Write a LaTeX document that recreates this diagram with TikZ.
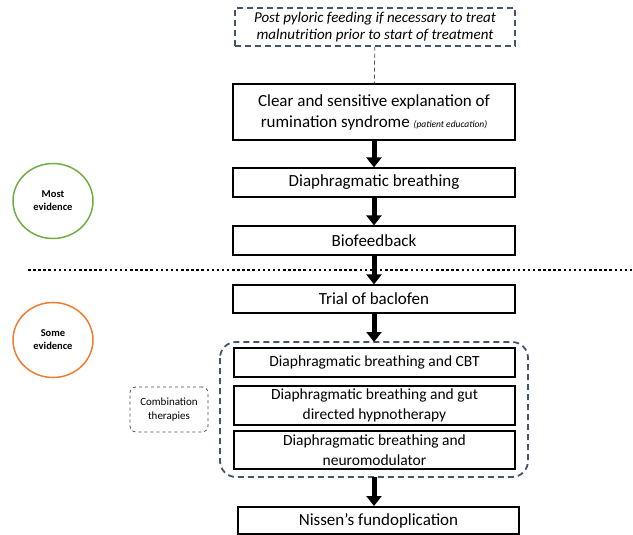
\documentclass[tikz,border=0pt]{standalone}
\usepackage{fontspec}
\setmainfont{Carlito}
\usetikzlibrary{arrows.meta}
\usetikzlibrary{shapes.geometric}
\definecolor{slate}{HTML}{44546A}
\definecolor{mostgreen}{HTML}{70AD47}
\definecolor{someorange}{HTML}{ED7D31}
\tikzset{
    box/.style={draw=black, line width=1.2pt, fill=white, minimum width=282pt, inner sep=0pt, align=center, font=\fontsize{17}{21}\selectfont},
    innerbox/.style={box, minimum width=281pt, font=\fontsize{15.5}{19.5}\selectfont},
    bigarrow/.style={line width=5pt, -{Triangle[width=15pt,length=10pt]}},
    evidence/.style={ellipse, draw, line width=1.5pt, minimum width=80pt, minimum height=75pt, align=center, font=\bfseries\fontsize{10.5}{13}\selectfont}
}
\begin{document}
\begin{tikzpicture}[x=1pt, y=-1pt]
        \useasboundingbox (0,0) rectangle (633,535);
        \draw[black, line width=2.5pt, dash pattern=on 2.5pt off 2.6pt] (28,270) -- (633,270);
        \node[box, draw=slate, dashed, dash pattern=on 6pt off 4pt, minimum width=280pt, minimum height=38pt, font=\itshape\fontsize{15}{17.5}\selectfont] (feeding) at (375,27) {Post pyloric feeding if necessary to treat\\malnutrition prior to start of treatment};
        \node[box, minimum height=56pt] (explain) at (374,112) {Clear and sensitive explanation of\\rumination syndrome {\itshape\fontsize{9.5}{11}\selectfont (patient education)}};
        \node[box, minimum height=29pt] (breath) at (374,182.5) {Diaphragmatic breathing};
        \node[box, minimum height=29pt] (biofb) at (374,240.5) {Biofeedback};
        \node[box, minimum height=28pt] (baclofen) at (374,299) {Trial of baclofen};
        \draw[slate, rounded corners=16pt, line width=1.8pt, dash pattern=on 6pt off 4pt] (220,342) rectangle (528,477);
        \node[innerbox, minimum height=29pt] (cbt) at (374.5,362.5) {Diaphragmatic breathing and CBT};
        \node[innerbox, minimum height=39pt] (hypno) at (374.5,405.5) {Diaphragmatic breathing and gut\\directed hypnotherapy};
        \node[innerbox, minimum height=38pt] (neuro) at (374.5,450) {Diaphragmatic breathing and\\neuromodulator};
        \coordinate (combtop) at (374,342);
        \coordinate (combbot) at (374,477);
        \node[box, minimum width=281pt, minimum height=27pt] (nissen) at (378.5,520.5) {Nissen’s fundoplication};
        % evidence markers
        \node[evidence, draw=mostgreen] (most) at (53,201) {Most\\evidence};
        \node[evidence, draw=someorange] (some) at (53,340) {Some\\evidence};
        \node[draw=black!70, dashed, rounded corners=6pt, line width=0.8pt, minimum width=78pt, minimum height=45pt, align=center, font=\fontsize{11}{13.5}\selectfont] (combo) at (169,409.5) {Combination\\therapies};
        % connectors
        \draw[slate, dashed, line width=0.8pt, dash pattern=on 4pt off 3pt] (feeding) -- (explain);
        \draw[bigarrow] (explain) -- (breath);
        \draw[bigarrow] (breath) -- (biofb);
        \draw[bigarrow] (biofb) -- (baclofen);
        \draw[bigarrow] (baclofen.south) -- (combtop);
        \draw[bigarrow] (combbot) -- (374,506);
\end{tikzpicture}
\end{document}
